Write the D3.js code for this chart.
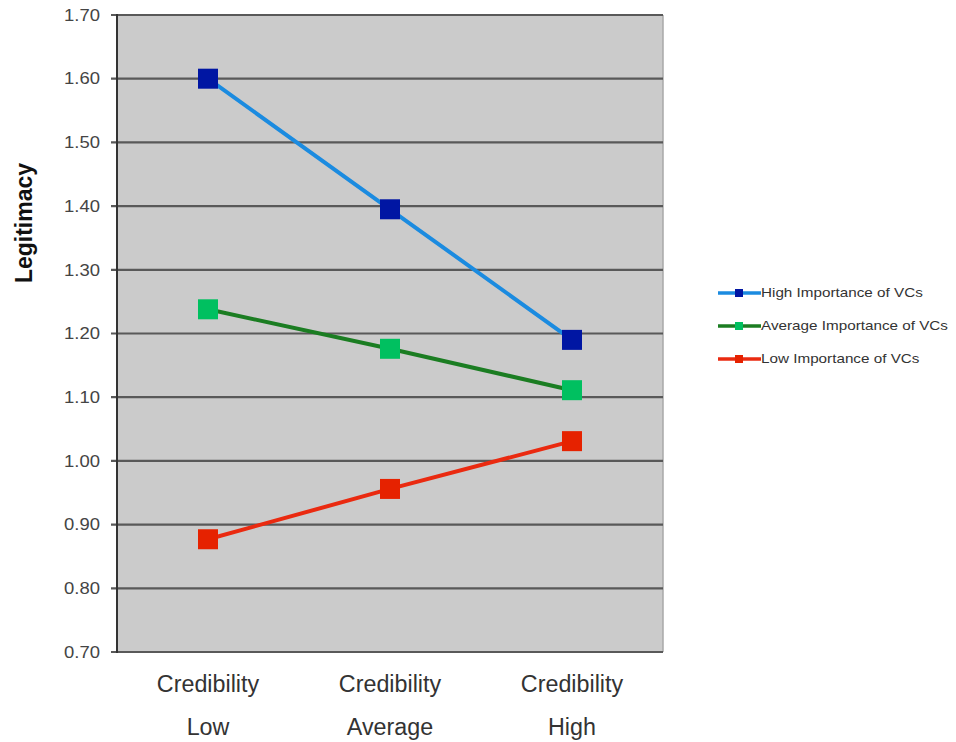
<!DOCTYPE html>
<html>
<head>
<meta charset="utf-8">
<script src="https://cdn.jsdelivr.net/npm/d3@7/dist/d3.min.js"></script>
<style>
  html, body { margin: 0; padding: 0; background: #fff; }
  svg { display: block; }
  text { font-family: "Liberation Sans", Arial, sans-serif; }
</style>
</head>
<body>
<svg id="chart" width="956" height="742"></svg>
<script>
// Categories along the x axis (two-line labels)
const categories = ["Low", "Average", "High"];
const categoryPrefix = "Credibility";

// Y axis ticks
const yTicks = [0.70, 0.80, 0.90, 1.00, 1.10, 1.20, 1.30, 1.40, 1.50, 1.60, 1.70];

// Series values (Legitimacy)
const highImportance = [1.600, 1.395, 1.190];
const averageImportance = [1.238, 1.176, 1.111];
const lowImportance = [0.877, 0.956, 1.031];

const seriesNames = ["High Importance of VCs", "Average Importance of VCs", "Low Importance of VCs"];

const series = [
  { name: seriesNames[0], values: highImportance, line: "#1b8be0", marker: "#0016a3" },
  { name: seriesNames[1], values: averageImportance, line: "#1b7d22", marker: "#00c060" },
  { name: seriesNames[2], values: lowImportance, line: "#ea2a10", marker: "#e62200" }
];

const svg = d3.select("#chart");
const plot = { left: 117, right: 663, top: 15, bottom: 652 };

const x = d3.scalePoint().domain(categories).range([plot.left, plot.right]).padding(0.5);
const y = d3.scaleLinear().domain([0.70, 1.70]).range([plot.bottom, plot.top]);

// plot background
svg.append("rect")
  .attr("x", plot.left).attr("y", plot.top)
  .attr("width", plot.right - plot.left).attr("height", plot.bottom - plot.top)
  .attr("fill", "#cbcbcb");

// right border
svg.append("line")
  .attr("x1", plot.right).attr("x2", plot.right).attr("y1", plot.top).attr("y2", plot.bottom)
  .attr("stroke", "#a8a8a8").attr("stroke-width", 1.5);

// gridlines with tick stubs
svg.append("g").selectAll("line").data(yTicks).join("line")
  .attr("x1", plot.left - 6).attr("x2", plot.right)
  .attr("y1", d => y(d)).attr("y2", d => y(d))
  .attr("stroke", "#595959")
  .attr("stroke-width", 2.2);

// left axis line
svg.append("line")
  .attr("x1", plot.left).attr("x2", plot.left).attr("y1", plot.top - 1).attr("y2", plot.bottom + 1)
  .attr("stroke", "#333").attr("stroke-width", 2);

// y tick labels (slightly wide face)
svg.append("g").selectAll("text").data(yTicks).join("text")
  .attr("transform", d => `translate(100, ${y(d)}) scale(1.12, 1)`)
  .attr("dy", "0.35em")
  .attr("text-anchor", "end")
  .attr("font-size", 16.5)
  .attr("fill", "#444")
  .text(d => d3.format(".2f")(d));

// y axis title
svg.append("text")
  .attr("transform", `translate(32, 223) rotate(-90)`)
  .attr("text-anchor", "middle")
  .attr("font-size", 23)
  .attr("font-weight", "bold")
  .attr("fill", "#111")
  .text("Legitimacy");

// x labels
const xl = svg.append("g").selectAll("g").data(categories).join("g")
  .attr("transform", d => `translate(${x(d)},0)`);
xl.append("text").attr("y", 692).attr("text-anchor", "middle")
  .attr("font-size", 23.3).attr("fill", "#333").text(categoryPrefix);
xl.append("text").attr("y", 735).attr("text-anchor", "middle")
  .attr("font-size", 23.3).attr("fill", "#333").text(d => d);

// series lines and markers
const line = d3.line().x((d, i) => x(categories[i])).y(d => y(d));
series.forEach(s => {
  svg.append("path")
    .attr("d", line(s.values))
    .attr("fill", "none")
    .attr("stroke", s.line)
    .attr("stroke-width", 4);
  svg.append("g").selectAll("rect").data(s.values).join("rect")
    .attr("x", (d, i) => x(categories[i]) - 10)
    .attr("y", d => y(d) - 10)
    .attr("width", 20).attr("height", 20)
    .attr("fill", s.marker);
});

// legend
const lg = svg.append("g").selectAll("g").data(series).join("g")
  .attr("transform", (d, i) => `translate(718, ${293 + i * 33})`);
lg.append("line").attr("x1", 0).attr("x2", 43).attr("y1", 0).attr("y2", 0)
  .attr("stroke", d => d.line).attr("stroke-width", 3.5);
lg.append("rect").attr("x", 17).attr("y", -4).attr("width", 8).attr("height", 8)
  .attr("fill", d => d.marker);
lg.append("text")
  .attr("transform", "translate(43, 0) scale(1.22, 1)")
  .attr("dy", "0.35em")
  .attr("font-size", 12.5).attr("fill", "#333").text(d => d.name);
</script>
</body>
</html>
